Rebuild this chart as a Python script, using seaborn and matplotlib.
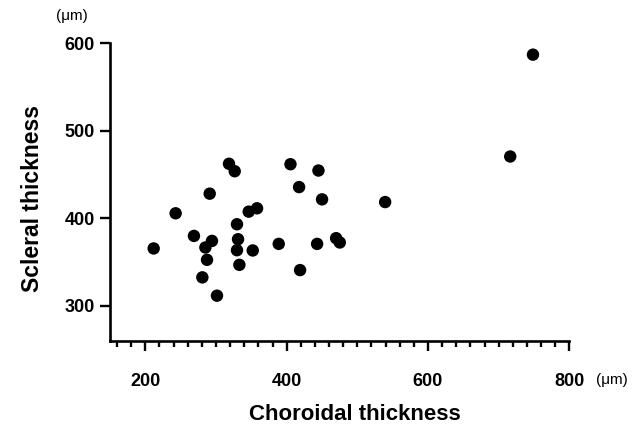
import matplotlib
matplotlib.use("Agg")
import matplotlib.pyplot as plt
import seaborn as sns
import pandas as pd
from matplotlib.ticker import MultipleLocator

choroidal = [211.8, 242.9, 268.8, 291.1, 294.3, 285.0, 287.3, 280.7, 301.4, 318.4,
             326.5, 329.7, 331.2, 329.7, 333.1, 346.3, 358.1, 352.0, 388.8, 405.4,
             417.6, 419.0, 445.0, 450.1, 443.1, 470.0, 475.2, 539.4, 748.6, 716.4]
scleral = [365.6, 405.7, 379.9, 428.1, 374.2, 366.7, 352.6, 332.6, 311.7, 462.2,
           453.7, 393.2, 376.1, 363.6, 346.9, 407.6, 411.4, 363.3, 370.8, 461.7,
           435.6, 340.9, 454.5, 421.6, 370.8, 377.3, 372.4, 418.5, 586.7, 470.5]
x_ticks = [200, 400, 600, 800]
y_ticks = [300, 400, 500, 600]

df = pd.DataFrame({"Choroidal thickness": choroidal, "Scleral thickness": scleral})

sns.set_theme(style="ticks")
plt.rcParams['font.family'] = ['Liberation Sans', 'DejaVu Sans']
plt.rcParams['text.color'] = 'black'
plt.rcParams['xtick.color'] = 'black'
plt.rcParams['ytick.color'] = 'black'
plt.rcParams['xtick.labelcolor'] = 'black'
plt.rcParams['ytick.labelcolor'] = 'black'

fig = plt.figure(figsize=(6.35, 4.34), dpi=100)
ax = fig.add_axes([110/635, 1-341/434, (569.3-110)/635, (341-43)/434])

sns.scatterplot(data=df, x="Choroidal thickness", y="Scleral thickness", ax=ax,
                color="black", s=80, edgecolor="none", linewidth=0)

ax.set_xlim(150, 800)
ax.set_ylim(260, 600)
ax.set_xticks(x_ticks)
ax.set_yticks(y_ticks)
ax.xaxis.set_minor_locator(MultipleLocator(20))
ax.set_xlabel("")
ax.set_ylabel("")

for s in ["top", "right"]:
    ax.spines[s].set_visible(False)
for s in ["left", "bottom"]:
    ax.spines[s].set_linewidth(1.9)
    ax.spines[s].set_color("black")

ax.tick_params(axis="both", which="major", direction="out", width=1.7, length=7,
               colors="black", labelsize=13)
ax.tick_params(axis="x", which="major", pad=16)
ax.tick_params(axis="y", which="major", pad=4)
ax.tick_params(axis="x", which="minor", direction="out", width=1.7, length=4, color="black")
for lab in ax.get_xticklabels() + ax.get_yticklabels():
    lab.set_fontweight("bold")
    lab.set_color("black")

fig.text(355/635, 1-415/434, "Choroidal thickness", ha="center", va="center",
         fontsize=16, fontweight="bold", color="black")
fig.text(33/635, 1-199/434, "Scleral thickness", ha="center", va="center",
         fontsize=16.5, fontweight="bold", rotation=90, color="black")
fig.text(72/635, 1-16/434, "(\u03bcm)", ha="center", va="center", fontsize=11, color="black")
fig.text(612/635, 1-380/434, "(\u03bcm)", ha="center", va="center", fontsize=11, color="black")

fig.savefig("out.png", dpi=100)
